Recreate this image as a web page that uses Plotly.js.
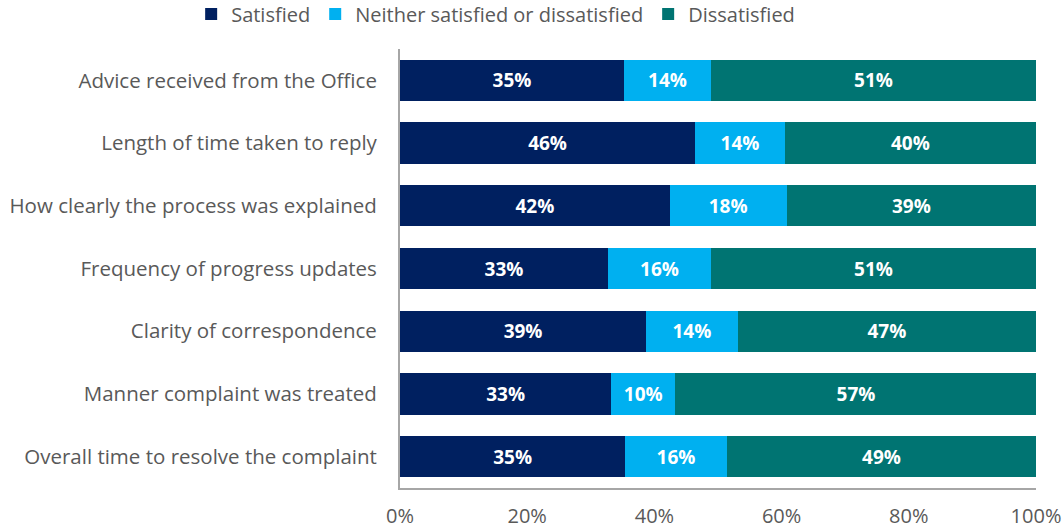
<!DOCTYPE html>
<html>
<head>
<meta charset="utf-8">
<script src="https://cdn.plot.ly/plotly-3.0.1.min.js"></script>
<style>html,body{margin:0;padding:0;background:#fff;}#chart{width:1062px;height:529px;}</style>
</head>
<body>
<div id="chart"></div>
<script>
const categories = [
  "Advice received from the Office",
  "Length of time taken to reply",
  "How clearly the process was explained",
  "Frequency of progress updates",
  "Clarity of correspondence",
  "Manner complaint was treated",
  "Overall time to resolve the complaint"
];
const satisfied = [35.2, 46.4, 42.4, 32.7, 38.7, 33.2, 35.4];
const neither = [13.7, 14.1, 18.4, 16.2, 14.4, 10.1, 16.0];
const dissatisfied = [51.1, 39.5, 39.2, 51.1, 46.9, 56.8, 48.6];
const seriesNames = ["Satisfied", "Neither satisfied or dissatisfied", "Dissatisfied"];
const seriesColors = ["#002060", "#00B0F0", "#007472"];
const xTickVals = [0, 20, 40, 60, 80, 100];
const xTickText = ["0%", "20%", "40%", "60%", "80%", "100%"];

const font = "'Open Sans', 'Noto Sans', sans-serif";
const allSeries = [satisfied, neither, dissatisfied];
const traces = allSeries.map((vals, i) => ({
  type: "bar",
  orientation: "h",
  name: seriesNames[i],
  y: categories,
  x: vals,
  marker: {color: seriesColors[i], line: {width: 0}},
  texttemplate: "%{x:.0f}%",
  textposition: "inside",
  insidetextanchor: "middle",
  textfont: {color: "#ffffff", size: 19, family: font, weight: "bold"},
  hoverinfo: "skip"
}));

const layout = {
  width: 1062,
  height: 529,
  barmode: "stack",
  bargap: 0.34,
  paper_bgcolor: "#ffffff",
  plot_bgcolor: "#ffffff",
  margin: {l: 400, r: 26, t: 49, b: 41},
  font: {family: font, color: "#595959", size: 20},
  showlegend: true,
  legend: {
    orientation: "h",
    xref: "container",
    yref: "container",
    x: 0.18,
    xanchor: "left",
    y: 0.9735,
    yanchor: "middle",
    font: {size: 20, color: "#595959", family: font},
    itemwidth: 30,
    traceorder: "normal",
    tracegroupgap: 0
  },
  xaxis: {
    range: [0, 100],
    tickvals: xTickVals,
    ticktext: xTickText,
    showgrid: false,
    zeroline: false,
    showline: true,
    linecolor: "#a6a6a6",
    linewidth: 2,
    ticks: "",
    ticklabelstandoff: 9,
    tickfont: {size: 20, color: "#595959", family: font},
    fixedrange: true
  },
  yaxis: {
    autorange: "reversed",
    type: "category",
    showgrid: false,
    zeroline: false,
    showline: true,
    linecolor: "#a6a6a6",
    linewidth: 2,
    ticks: "",
    ticklabelstandoff: 17,
    tickfont: {size: 20.5, color: "#595959", family: font},
    fixedrange: true
  }
};

Plotly.newPlot("chart", traces, layout, {displayModeBar: false, staticPlot: true});
</script>
</body>
</html>
